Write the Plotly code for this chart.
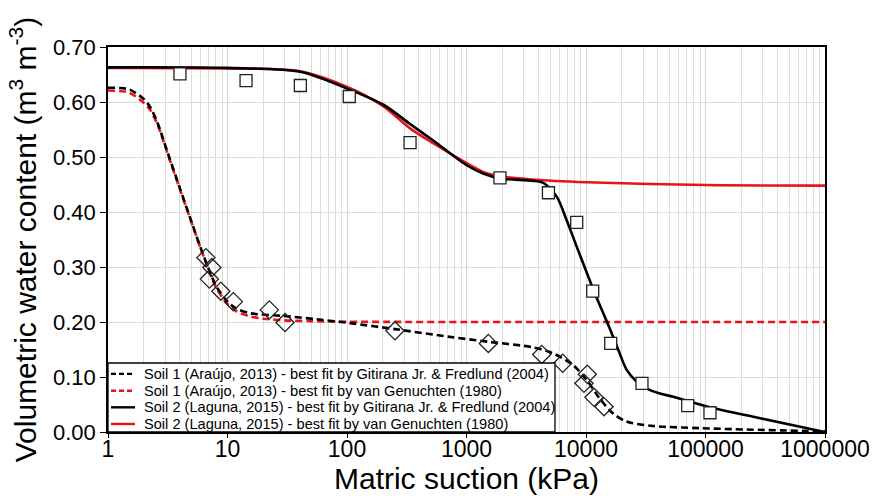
import plotly.graph_objects as go

# ---- measured data ----
soil1_suction = [6.6, 7.4, 7.05, 8.8, 11.2, 22.4, 30.3, 252, 1523, 4260, 6380, 10250, 9620, 11670, 14150]
soil1_theta = [0.317, 0.299, 0.278, 0.256, 0.237, 0.222, 0.199, 0.184, 0.161, 0.141, 0.125, 0.105, 0.0885, 0.063, 0.046]

soil2_suction = [4.0, 14.3, 40.7, 104.5, 337, 1906, 4850, 8360, 11380, 16100, 29400, 70960, 109000]
soil2_theta = [0.651, 0.639, 0.630, 0.610, 0.526, 0.462, 0.435, 0.381, 0.256, 0.161, 0.0885, 0.048, 0.035]

# ---- fitted curves ----
s1_gf_x = [1, 1.5, 2, 2.25, 2.6, 3.1, 4, 5, 6, 7, 8, 10, 12, 15.4, 29.3, 55.7, 106, 252, 723, 1525, 3580, 5300,
           7760, 10100, 13000, 16800, 21800, 36400, 89000, 1000000]
s1_gf_y = [0.626, 0.623, 0.605, 0.591, 0.562, 0.513, 0.443, 0.382, 0.333, 0.295, 0.266, 0.237, 0.224, 0.216, 0.211,
           0.205, 0.198, 0.187, 0.173, 0.164, 0.154, 0.143, 0.122, 0.095, 0.061, 0.034, 0.019, 0.011, 0.007, 0.001]

s1_vg_x = [1, 1.5, 2, 2.25, 2.6, 3.1, 4, 5, 6, 7, 8, 10, 12, 15, 20, 30, 50, 100, 1000, 1000000]
s1_vg_y = [0.621, 0.617, 0.598, 0.586, 0.559, 0.511, 0.441, 0.381, 0.332, 0.293, 0.263, 0.233, 0.219, 0.211, 0.206,
           0.203, 0.2015, 0.2005, 0.2, 0.2]

s2_gf_x = [1, 10, 40.7, 104, 202, 337, 526, 1003, 1378, 1900, 3540, 4390, 5690, 6890, 8360, 10100, 11500, 13500,
           15900, 18660, 21900, 26600, 32200, 41600, 53600, 101000, 246000, 1000000]
s2_gf_y = [0.663, 0.662, 0.655, 0.623, 0.595, 0.560, 0.530, 0.485, 0.470, 0.461, 0.457, 0.453, 0.428, 0.385,
           0.337, 0.291, 0.259, 0.223, 0.187, 0.149, 0.113, 0.0915, 0.079, 0.070, 0.064, 0.047, 0.028, 0.0]

s2_vg_x = [1, 10, 40.7, 104, 202, 337, 526, 1003, 1378, 1900, 3540, 10000, 100000, 1000000]
s2_vg_y = [0.662, 0.661, 0.656, 0.626, 0.592, 0.552, 0.525, 0.489, 0.473, 0.465, 0.459, 0.454, 0.449, 0.448]

x_tickvals = [1, 10, 100, 1000, 10000, 100000, 1000000]
x_ticktext = ["1", "10", "100", "1000", "10000", "100000", "1000000"]
y_tickvals = [0.0, 0.1, 0.2, 0.3, 0.4, 0.5, 0.6, 0.7]
y_ticktext = ["0.00", "0.10", "0.20", "0.30", "0.40", "0.50", "0.60", "0.70"]

legend_names = [
    "Soil 1 (Araújo, 2013) - best fit by Gitirana Jr. &amp; Fredlund (2004)",
    "Soil 1 (Araújo, 2013) - best fit by van Genuchten (1980)",
    "Soil 2 (Laguna, 2015) - best fit by Gitirana Jr. &amp; Fredlund (2004)",
    "Soil 2 (Laguna, 2015) - best fit by van Genuchten (1980)",
]

RED = "#e8141c"
BLACK = "#000000"
LW = 2.6
DASH = "7px,4px"

# legend entries: (name, colour, dash)
legend_styles = [(legend_names[0], BLACK, DASH), (legend_names[1], RED, DASH),
                 (legend_names[2], BLACK, "solid"), (legend_names[3], RED, "solid")]

fig = go.Figure()

fig.add_trace(go.Scatter(x=s1_vg_x, y=s1_vg_y, mode="lines", name=legend_names[1], showlegend=False,
                         line=dict(color=RED, width=LW, dash=DASH, shape="spline", smoothing=0.8)))
fig.add_trace(go.Scatter(x=s2_vg_x, y=s2_vg_y, mode="lines", name=legend_names[3], showlegend=False,
                         line=dict(color=RED, width=LW, shape="spline", smoothing=0.8)))
fig.add_trace(go.Scatter(x=s1_gf_x, y=s1_gf_y, mode="lines", name=legend_names[0], showlegend=False,
                         line=dict(color=BLACK, width=LW, dash=DASH, shape="spline", smoothing=0.8)))
fig.add_trace(go.Scatter(x=s2_gf_x, y=s2_gf_y, mode="lines", name=legend_names[2], showlegend=False,
                         line=dict(color=BLACK, width=LW, shape="spline", smoothing=0.8)))

fig.add_trace(go.Scatter(x=soil1_suction, y=soil1_theta, mode="markers", showlegend=False,
                         marker=dict(symbol="diamond-open", size=14, color="#222222", line=dict(width=1.3))))
fig.add_trace(go.Scatter(x=soil2_suction, y=soil2_theta, mode="markers", showlegend=False,
                         marker=dict(symbol="square", size=12, color="white",
                                     line=dict(color="#222222", width=1.3))))

FONT = "Liberation Sans, Arial, sans-serif"

# ---- legend box drawn in plot-area (paper) fractions ----
LEG_X1 = 0.6234
LEG_Y1 = 0.1792
row_y = [0.151, 0.1073, 0.0641, 0.0208]
shapes = [dict(type="rect", xref="paper", yref="paper", x0=0, x1=LEG_X1, y0=0, y1=LEG_Y1,
               fillcolor="white", line=dict(color="black", width=1.3), layer="above")]
annotations = []
for (name, col, dash), ry in zip(legend_styles, row_y):
    shapes.append(dict(type="line", xref="paper", yref="paper", x0=0.0042, x1=0.0377, y0=ry, y1=ry,
                       line=dict(color=col, width=2.4, dash="5px,3px" if dash != "solid" else "solid"),
                       layer="above"))
    annotations.append(dict(text=name, xref="paper", yref="paper", x=0.0474, y=ry,
                            xanchor="left", yanchor="middle", showarrow=False,
                            font=dict(size=14.6, family=FONT, color="black")))

fig.update_layout(
    width=872, height=496,
    margin=dict(l=108, r=47, t=47, b=64),
    paper_bgcolor="white", plot_bgcolor="white",
    font=dict(family=FONT, color="black"),
    showlegend=False,
    shapes=shapes,
    annotations=annotations,
    xaxis=dict(
        type="log", range=[0, 6], automargin=False,
        tickvals=x_tickvals, ticktext=x_ticktext,
        tickfont=dict(size=23), ticks="outside", ticklen=4, tickcolor="black",
        ticklabelstandoff=-8,
        showline=True, linecolor="black", linewidth=1.5, mirror=True,
        showgrid=True, gridcolor="#d4d4d4", gridwidth=1,
        minor=dict(dtick="D1", showgrid=True, gridcolor="#dcdcdc", gridwidth=1, ticks=""),
        title=dict(text="Matric suction (kPa)", font=dict(size=30), standoff=2),
        zeroline=False,
    ),
    yaxis=dict(
        range=[0, 0.7], automargin=False,
        tickvals=y_tickvals, ticktext=y_ticktext,
        tickfont=dict(size=22), ticks="outside", ticklen=6, tickcolor="black",
        showline=True, linecolor="black", linewidth=1.5, mirror=True,
        showgrid=True, gridcolor="#dcdcdc", gridwidth=1,
        title=dict(text="Volumetric water content (m<sup>3</sup> m<sup>-3</sup>)", font=dict(size=30), standoff=8),
        zeroline=False,
    ),
)

fig.write_html("out.html")
